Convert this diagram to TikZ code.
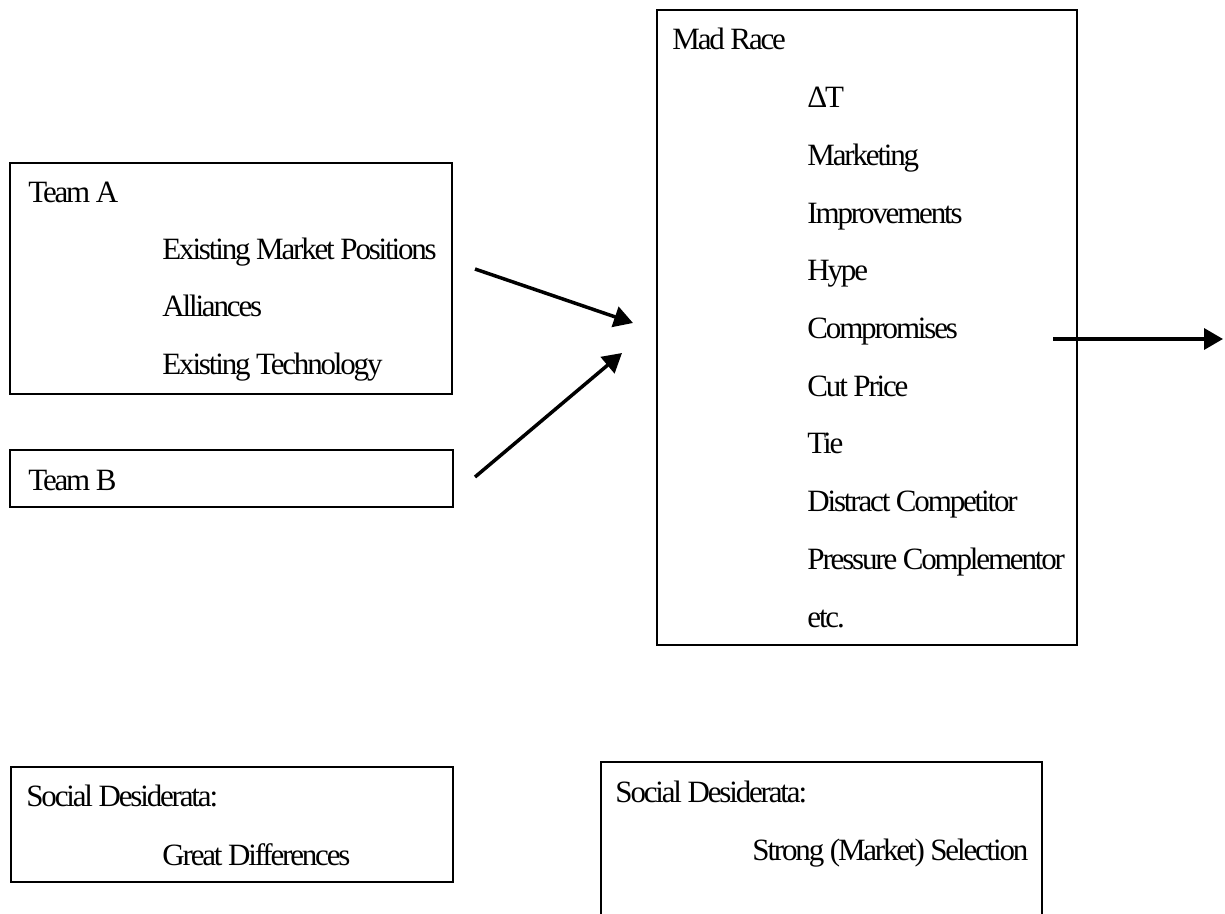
\documentclass[tikz,border=0pt]{standalone}
\usepackage{fontspec}
\setmainfont{Liberation Serif}[LetterSpace=-7]
\usepackage{tikz}
\usetikzlibrary{arrows.meta}

\tikzset{
  box/.style={draw, line width=1pt, inner sep=0pt, anchor=north west},
  lbl/.style={anchor=base west, inner sep=0pt, font=\fontsize{15.5}{18}\selectfont},
  push/.style={line width=1.75pt, -{Triangle[length=9.5pt,width=10.5pt]}}
}

\begin{document}
\begin{tikzpicture}[x=0.5pt,y=-0.5pt]
\useasboundingbox (0,0) rectangle (1225,914);
\clip (0,0) rectangle (1225,914);
\node[box, minimum width=221pt, minimum height=115.5pt] (teamA) at (9,162) {};
\node[box, minimum width=221.5pt, minimum height=28.5pt] (teamB) at (9,449) {};
\node[box, minimum width=210pt, minimum height=317.5pt] (race) at (656,9) {};
\node[box, minimum width=221pt, minimum height=57.5pt] (goalA) at (10,766) {};
\node[box, minimum width=220.5pt, minimum height=90pt] (goalB) at (600,761) {};
\node[lbl] (teamA-title) at (28,203) {Team A};
\foreach \t [count=\i] in {Existing Market Positions, Alliances, Existing Technology}
  \node[lbl] (teamA-\i) at (162,{203+57*\i}) {\t};
\node[lbl] (teamB-title) at (28,490) {Team B};
\node[lbl] (race-title) at (672,50) {Mad Race};
\foreach \t [count=\i] in {ΔT, Marketing, Improvements, Hype, Compromises, Cut Price, Tie, Distract Competitor, Pressure Complementor, etc.}
  \node[lbl] (race-\i) at (807,{50+57.7*\i}) {\t};
\node[lbl] (goalA-title) at (26,806) {Social Desiderata:};
\node[lbl] (goalA-1) at (162,865) {Great Differences};
\node[lbl] (goalB-title) at (615,802) {Social Desiderata:};
\node[lbl] (goalB-1) at (752,860) {Strong (Market) Selection};
\coordinate (inA) at (475,269);
\coordinate (inA-end) at (633,323);
\coordinate (inB) at (475,477);
\coordinate (inB-end) at (622,353);
\coordinate (out) at (1053,339);
\coordinate (out-end) at (1223,339);
\draw[push] (inA) -- (inA-end);
\draw[push] (inB) -- (inB-end);
\draw[push] (out) -- (out-end);
\end{tikzpicture}
\end{document}
